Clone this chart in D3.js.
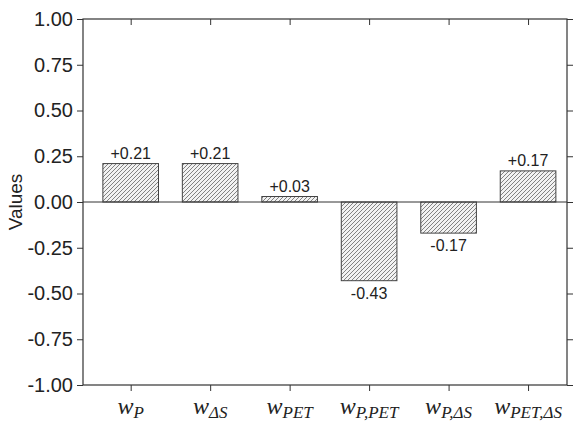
<!DOCTYPE html><html><head><meta charset="utf-8"><script src="https://cdn.jsdelivr.net/npm/d3@7"></script>
<style>body{margin:0;background:#fff}</style></head><body><svg id="c" width="579" height="424"></svg>
<script>
const cats=["P","ΔS","PET","P,PET","P,ΔS","PET,ΔS"];
const values=[0.21,0.21,0.03,-0.43,-0.17,0.17];
const labels=["+0.21","+0.21","+0.03","-0.43","-0.17","+0.17"];
const yTicks=[1,0.75,0.5,0.25,0,-0.25,-0.5,-0.75,-1];
const svg=d3.select("#c");
const L=83,R=567,T=19,B=385;
const x=d3.scaleLinear().domain([0.4,6.49]).range([L,R]);
const y=d3.scaleLinear().domain([-1,1]).range([B,T]);
const defs=svg.append("defs");
const p=defs.append("pattern").attr("id","h").attr("patternUnits","userSpaceOnUse").attr("width",4).attr("height",4);
p.append("rect").attr("width",4).attr("height",4).attr("fill","#f2f2f2");
p.append("path").attr("d","M-1,5L5,-1M-1,1L1,-1M3,5L5,3").attr("stroke","#666").attr("stroke-width",0.8);
const bw=x(1.35)-x(1);
svg.selectAll(".b").data(values).join("rect").attr("x",(d,i)=>x(i+1)-bw).attr("width",2*bw)
 .attr("y",d=>y(Math.max(0,d))).attr("height",d=>Math.abs(y(d)-y(0)))
 .attr("fill","url(#h)").attr("stroke","#444").attr("stroke-width",1);
svg.append("line").attr("x1",L).attr("x2",R).attr("y1",y(0)).attr("y2",y(0)).attr("stroke","#333");
svg.selectAll(".l").data(values).join("text").attr("x",(d,i)=>x(i+1)).attr("y",d=>d>=0?y(d)-5:y(d)+18)
 .attr("text-anchor","middle").attr("font-family","Liberation Sans, Arial").attr("font-size",16).attr("fill","#222").text((d,i)=>labels[i]);
const g=svg.append("g").attr("stroke","#333").attr("fill","none");
g.append("rect").attr("x",L).attr("y",T).attr("width",R-L).attr("height",B-T).attr("stroke-width",1.2);
const fmt=d=>d3.format(".2f")(d).replace("−","-");
svg.append("g").attr("transform",`translate(${L},0)`).call(d3.axisLeft(y).tickValues(yTicks).tickSize(6).tickFormat(fmt))
 .call(a=>{a.select(".domain").remove();a.selectAll("text").attr("font-size",20).attr("font-family","Liberation Sans, Arial").attr("fill","#222").attr("dx",-1);a.selectAll("line").attr("stroke","#333")});
svg.append("g").attr("transform",`translate(${R},0)`).call(d3.axisRight(y).tickValues(yTicks).tickSize(6).tickFormat(""))
 .call(a=>{a.select(".domain").remove();a.selectAll("line").attr("stroke","#333")});
const xt=d3.range(1,7);
svg.append("g").attr("transform",`translate(0,${B})`).call(d3.axisBottom(x).tickValues(xt).tickSize(6).tickFormat(""))
 .call(a=>{a.select(".domain").remove();a.selectAll("line").attr("stroke","#333")});
svg.append("g").attr("transform",`translate(0,${T})`).call(d3.axisBottom(x).tickValues(xt).tickSize(6).tickFormat(""))
 .call(a=>{a.select(".domain").remove();a.selectAll("line").attr("stroke","#333")});
cats.forEach((c,i)=>{const t=svg.append("text").attr("x",x(i+1)).attr("y",414).attr("text-anchor","middle")
 .attr("font-family","Liberation Serif, Times New Roman").attr("font-style","italic").attr("fill","#222");
 t.append("tspan").attr("font-size",24).text("w");
 t.append("tspan").attr("font-size",17).attr("dy",4).text(c);});
svg.append("text").attr("transform",`translate(22,${y(0)}) rotate(-90)`).attr("text-anchor","middle")
 .attr("font-family","Liberation Sans, Arial").attr("font-size",19).attr("fill","#222").text("Values");
</script></body></html>
